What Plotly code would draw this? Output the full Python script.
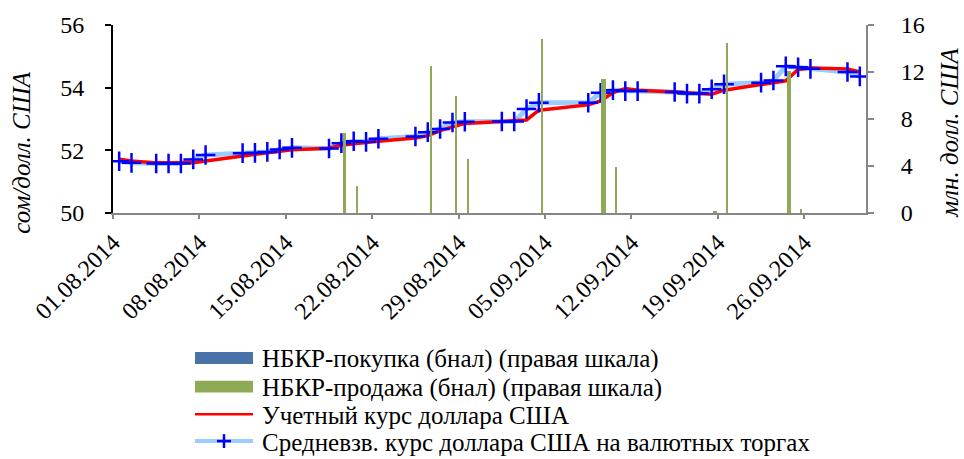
import plotly.graph_objects as go
import pandas as pd

# ---------------- data ----------------
line_dates = [
    "2014-08-01", "2014-08-02", "2014-08-04", "2014-08-05", "2014-08-06", "2014-08-07", "2014-08-08",
    "2014-08-11", "2014-08-12", "2014-08-13", "2014-08-14", "2014-08-15",
    "2014-08-18", "2014-08-19", "2014-08-20", "2014-08-21", "2014-08-22",
    "2014-08-25", "2014-08-26", "2014-08-27", "2014-08-28", "2014-08-29",
    "2014-09-01", "2014-09-02", "2014-09-03", "2014-09-04",
    "2014-09-08", "2014-09-09", "2014-09-10", "2014-09-11", "2014-09-12",
    "2014-09-15", "2014-09-16", "2014-09-17", "2014-09-18", "2014-09-19",
    "2014-09-22", "2014-09-23", "2014-09-24", "2014-09-25", "2014-09-26",
    "2014-09-29", "2014-09-30",
]
official_rate = [
    51.72, 51.66, 51.60, 51.60, 51.60, 51.60, 51.66,
    51.83, 51.87, 51.92, 51.97, 52.02,
    52.07, 52.16, 52.21, 52.26, 52.29,
    52.39, 52.47, 52.63, 52.74, 52.86,
    52.92, 52.95, 52.97, 53.28,
    53.45, 53.58, 53.84, 53.97, 53.92,
    53.86, 53.84, 53.81, 53.79, 53.92,
    54.10, 54.17, 54.22, 54.58, 54.63,
    54.60, 54.50,
]
weighted_rate = [
    51.65, 51.60, 51.58, 51.58, 51.58, 51.71, 51.85,
    51.91, 51.92, 51.95, 52.03, 52.08,
    52.06, 52.23, 52.29, 52.27, 52.37,
    52.44, 52.58, 52.68, 52.89, 52.91,
    52.92, 52.92, 53.32, 53.52,
    53.52, 53.84, 53.92, 53.89, 53.89,
    53.86, 53.81, 53.81, 53.95, 54.11,
    54.16, 54.23, 54.68, 54.65, 54.60,
    54.50, 54.36,
]
bar_dates = [
    "2014-08-19", "2014-08-20", "2014-08-26", "2014-08-28", "2014-08-29",
    "2014-09-04", "2014-09-09", "2014-09-10", "2014-09-18", "2014-09-19",
    "2014-09-24", "2014-09-25",
]
nbkr_sell = [6.8, 2.3, 12.5, 10.0, 4.6, 14.8, 11.4, 3.9, 0.2, 14.45, 12.1, 0.35]
nbkr_buy = [0, 0, 0, 0, 0, 0, 0, 0, 0, 0, 0, 0]

y_left_ticks = [50, 52, 54, 56]
y_right_ticks = [0, 4, 8, 12, 16]

names = [
    "НБКР-покупка (бнал) (правая шкала)",
    "НБКР-продажа (бнал) (правая шкала)",
    "Учетный курс доллара США",
    "Средневзв. курс доллара США на валютных торгах",
]

# ---------------- layout geometry ----------------
W, H = 964, 459
L, R, T, B = 113, 98, 23, 246
PW, PH = W - L - R, H - T - B

def px(xpix):
    return (xpix - L) / PW

def py(ypix):
    return (H - B - ypix) / PH

FONT = "Liberation Serif"
BLUE_BAR = "#4A72A8"
GREEN = "#8FAA55"
RED = "#FF0000"
LIGHT = "#99CCFF"
MARK = "#0000FF"
GRAY = "#868686"
FS_TICK = 24
FS_LEG = 25
FS_TITLE = 25

half_day = pd.Timedelta(hours=12)
lx = pd.to_datetime(line_dates) + half_day
bx = pd.to_datetime(bar_dates) + half_day
day_ms = 86400000
wide_days = {"2014-09-09", "2014-09-18", "2014-09-24"}
bar_w = [0.36 * day_ms if d in wide_days else 0.17 * day_ms for d in bar_dates]

fig = go.Figure()
fig.add_trace(go.Bar(x=bx, y=nbkr_buy, yaxis="y2", name=names[0], width=bar_w,
                     marker=dict(color=BLUE_BAR, line=dict(width=0)), showlegend=False))
fig.add_trace(go.Bar(x=bx, y=nbkr_sell, yaxis="y2", name=names[1], width=bar_w,
                     marker=dict(color=GREEN, line=dict(width=0)), showlegend=False))
fig.add_trace(go.Scatter(x=lx, y=weighted_rate, mode="lines", name=names[3],
                         line=dict(color=LIGHT, width=5), showlegend=False))
fig.add_trace(go.Scatter(x=lx, y=official_rate, mode="lines", name=names[2],
                         line=dict(color=RED, width=3.5), showlegend=False))
fig.add_trace(go.Scatter(x=lx, y=weighted_rate, mode="markers", name=names[3],
                         marker=dict(symbol="cross-thin", size=14, color=MARK,
                                     line=dict(color=MARK, width=2.5)),
                         showlegend=False))

fig.update_layout(
    width=W, height=H,
    margin=dict(l=L, r=R, t=T, b=B),
    paper_bgcolor="white", plot_bgcolor="white",
    font=dict(family=FONT, size=FS_TICK, color="black"),
    showlegend=False,
    bargap=0,
    xaxis=dict(
        type="date", range=["2014-08-01", "2014-10-01"],
        tick0="2014-08-01", dtick=7 * day_ms, tickformat="%d.%m.%Y",
        tickangle=-45, ticks="outside", ticklen=4, tickcolor=GRAY, tickwidth=2,
        showline=True, linecolor=GRAY, linewidth=2, showgrid=False, zeroline=False,
        tickfont=dict(family=FONT, size=FS_TICK),
    ),
    yaxis=dict(
        range=[50, 56], tickvals=y_left_ticks, ticks="outside", ticklen=6,
        tickcolor="black", tickwidth=2, showline=True, linecolor="black", linewidth=2,
        showgrid=False, zeroline=False, ticklabelstandoff=16,
        tickfont=dict(family=FONT, size=FS_TICK),
    ),
    yaxis2=dict(
        range=[0, 16], tickvals=y_right_ticks, overlaying="y", side="right",
        ticks="outside", ticklen=6, tickcolor=GRAY, tickwidth=2,
        showline=True, linecolor=GRAY, linewidth=2, showgrid=False, zeroline=False,
        ticklabelstandoff=22, tickfont=dict(family=FONT, size=FS_TICK),
    ),
)

annotations = [
    dict(text="сом/долл. США", x=px(22), y=py(152), xref="paper", yref="paper",
         textangle=-90, showarrow=False, xanchor="center", yanchor="middle",
         font=dict(family=FONT, size=FS_TITLE, color="black", style="italic")),
    dict(text="млн. долл. США", x=px(950), y=py(132), xref="paper", yref="paper",
         textangle=-90, showarrow=False, xanchor="center", yanchor="middle",
         font=dict(family=FONT, size=FS_TITLE, color="black", style="italic")),
]
shapes = []
rows = [359.5, 388.5, 416.5, 443.5]
sx0, sx1 = 195, 253
for yc, col in zip(rows[:2], [BLUE_BAR, GREEN]):
    shapes.append(dict(type="rect", xref="paper", yref="paper",
                       x0=px(sx0), x1=px(sx1), y0=py(yc - 6), y1=py(yc + 6),
                       fillcolor=col, line=dict(width=0)))
shapes.append(dict(type="line", xref="paper", yref="paper",
                   x0=px(sx0), x1=px(sx1), y0=py(rows[2]), y1=py(rows[2]),
                   line=dict(color=RED, width=2.5)))
shapes.append(dict(type="line", xref="paper", yref="paper",
                   x0=px(sx0), x1=px(sx1), y0=py(rows[3]), y1=py(rows[3]),
                   line=dict(color=LIGHT, width=4)))
cx = (sx0 + sx1) / 2
shapes.append(dict(type="line", xref="paper", yref="paper",
                   x0=px(cx - 7), x1=px(cx + 7), y0=py(rows[3]), y1=py(rows[3]),
                   line=dict(color=MARK, width=2.5)))
shapes.append(dict(type="line", xref="paper", yref="paper",
                   x0=px(cx), x1=px(cx), y0=py(rows[3] - 7), y1=py(rows[3] + 7),
                   line=dict(color=MARK, width=2.5)))
for yc, nm in zip(rows, names):
    annotations.append(dict(text=nm, x=px(260), y=py(yc + 1), xref="paper", yref="paper",
                            showarrow=False, xanchor="left", yanchor="middle",
                            font=dict(family=FONT, size=FS_LEG, color="black")))

fig.update_layout(annotations=annotations, shapes=shapes)
fig.write_html(
    "out.html",
    config={"displayModeBar": False},
    post_script="document.body.style.margin='0';document.body.style.padding='0';"
                "document.documentElement.style.overflow='hidden';",
)
